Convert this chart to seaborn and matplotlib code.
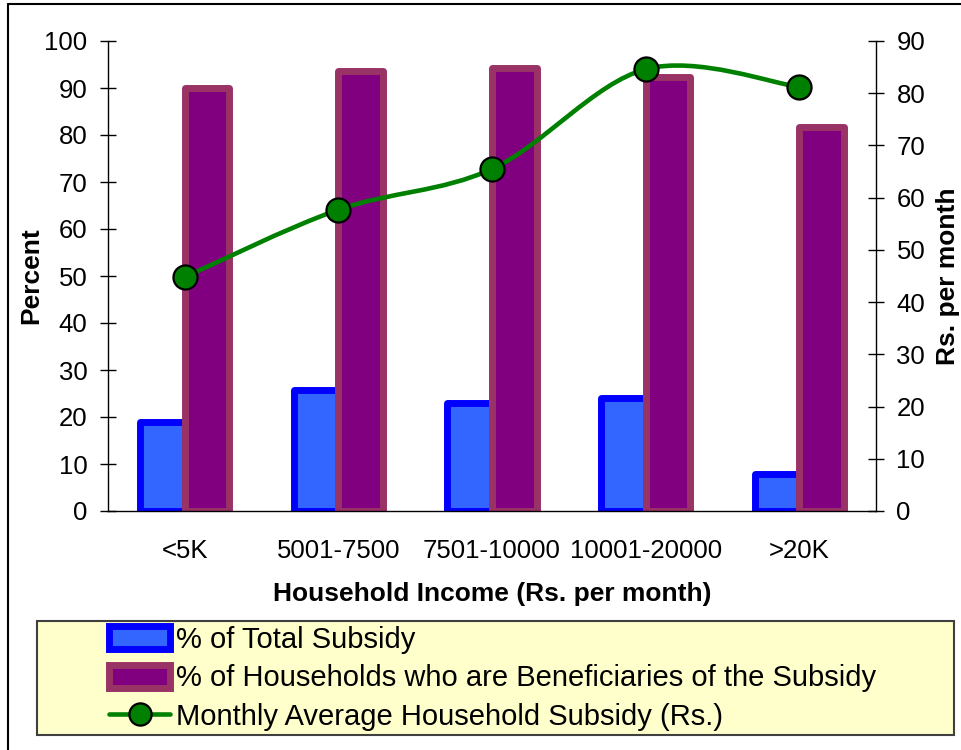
import numpy as np
import pandas as pd
import matplotlib
matplotlib.use("Agg")
import matplotlib.pyplot as plt
import seaborn as sns
from matplotlib.path import Path
from matplotlib.patches import PathPatch, Rectangle
from matplotlib.lines import Line2D

# ---- data ----
categories = ["<5K", "5001-7500", "7501-10000", "10001-20000", ">20K"]
series_names = ["% of Total Subsidy",
                "% of Households who are Beneficiaries of the Subsidy"]
pct_total_subsidy = [18.9, 25.7, 23.0, 24.1, 7.8]
pct_beneficiaries = [90.0, 93.6, 94.3, 92.3, 81.7]
line_name = "Monthly Average Household Subsidy (Rs.)"
monthly_subsidy = [44.8, 57.7, 65.5, 84.6, 81.2]
left_ticks = list(range(0, 101, 10))
right_ticks = list(range(0, 91, 10))

# ---- style ----
sns.set_style("white")
plt.rcParams['font.family'] = ['Liberation Sans', 'DejaVu Sans']
plt.rcParams.update({"text.color": "black", "axes.labelcolor": "black",
                     "xtick.color": "black", "ytick.color": "black"})

W, H = 961, 750
fig = plt.figure(figsize=(W / 100, H / 100), dpi=100)
ax = fig.add_axes([108 / W, 1 - 511 / H, (876 - 108) / W, (511 - 41) / H])

df = pd.DataFrame({
    "income": categories * 2,
    "value": pct_total_subsidy + pct_beneficiaries,
    "series": [series_names[0]] * len(categories) + [series_names[1]] * len(categories),
})

fills = ["#3366FF", "#800080"]
edges = ["#0000FF", "#993366"]
sns.barplot(data=df, x="income", y="value", hue="series", order=categories,
            hue_order=series_names, palette=fills, saturation=1, width=0.58,
            gap=0, ax=ax, legend=False)
for cont, ec in zip(ax.containers, edges):
    for p in cont:
        p.set_edgecolor(ec)
        p.set_linewidth(5)
        p.set_joinstyle("round")

ax.set_xlim(-0.5, len(categories) - 0.5)
ax.set_ylim(0, 100)
ax.set_yticks(left_ticks)
ax.set_xticks(range(len(categories)))
ax.set_xticklabels(categories)
ax.set_xticks(np.arange(-0.5, len(categories), 1.0), minor=True)
ax.tick_params(axis="x", which="major", length=0, pad=20, labelsize=18.5)
ax.tick_params(axis="x", which="minor", direction="inout", length=11.5, width=1, color="black")
ax.tick_params(axis="y", direction="inout", length=11.5, width=1, color="black",
               labelsize=18.5, pad=9, left=True)
for s in ["top", "right"]:
    ax.spines[s].set_visible(False)
for s in ["left", "bottom"]:
    ax.spines[s].set_color("black")
    ax.spines[s].set_linewidth(1)
ax.set_xlabel("Household Income (Rs. per month)", fontsize=19, fontweight="bold", labelpad=14)
ax.set_ylabel("Percent", fontsize=19, fontweight="bold", labelpad=1)

# ---- secondary axis line ----
ax2 = ax.twinx()
ax2.set_ylim(0, 90)
ax2.set_yticks(right_ticks)
ax2.tick_params(axis="y", direction="inout", length=11.5, width=1, color="black",
                labelsize=18.5, pad=9, right=True)
for s in ["top", "left", "bottom"]:
    ax2.spines[s].set_visible(False)
ax2.spines["right"].set_color("black")
ax2.spines["right"].set_linewidth(1)
ax2.set_ylabel("Rs. per month", fontsize=19, fontweight="bold", labelpad=8)

xs = np.arange(len(categories), dtype=float)
pts = np.column_stack([xs, np.asarray(monthly_subsidy, dtype=float)])
n = len(pts)
verts = [pts[0]]
codes = [Path.MOVETO]
for i in range(n - 1):
    p0 = pts[i - 1] if i > 0 else pts[i]
    p3 = pts[i + 2] if i + 2 < n else pts[i + 1]
    c1 = pts[i] + (pts[i + 1] - p0) / 6.0
    c2 = pts[i + 1] - (p3 - pts[i]) / 6.0
    verts += [c1, c2, pts[i + 1]]
    codes += [Path.CURVE4] * 3
ax2.add_patch(PathPatch(Path(verts, codes), fill=False, edgecolor="#008000",
                        lw=3.3, capstyle="round", zorder=2))
sns.scatterplot(x=xs, y=monthly_subsidy, ax=ax2, s=300, color="#008000",
                edgecolor="black", linewidth=1.6, zorder=3, legend=False)
ax2.set_xlim(-0.5, len(categories) - 0.5)

# ---- legend ----
fig.add_artist(Rectangle((37 / W, 1 - 735 / H), (954 - 37) / W, (735 - 621) / H,
                         transform=fig.transFigure, facecolor="#FFFFCC",
                         edgecolor="#404040", lw=1.5, zorder=1))
line_handle = Line2D([], [], color="#008000", lw=3.3, marker="o", markersize=16,
                     markerfacecolor="#008000", markeredgecolor="black", markeredgewidth=1.6)
handles = [ax.containers[0][0], ax.containers[1][0], line_handle]
labels = series_names + [line_name]
leg = fig.legend(handles, labels, loc="upper left",
                 bbox_to_anchor=(106 / W, 1 - 623 / H), frameon=False,
                 fontsize=21, handlelength=2.1, handleheight=0.85,
                 handletextpad=0.2, labelspacing=0.36, borderpad=0.1,
                 borderaxespad=0)
leg.set_zorder(2)

# ---- figure frame ----
fig.add_artist(Line2D([8 / W, 8 / W], [0, 1 - 4 / H], color="black", lw=1.5,
                      transform=fig.transFigure))
fig.add_artist(Line2D([8 / W, 1], [1 - 4 / H, 1 - 4 / H], color="black", lw=1.5,
                      transform=fig.transFigure))

fig.savefig("out.png", dpi=100)
